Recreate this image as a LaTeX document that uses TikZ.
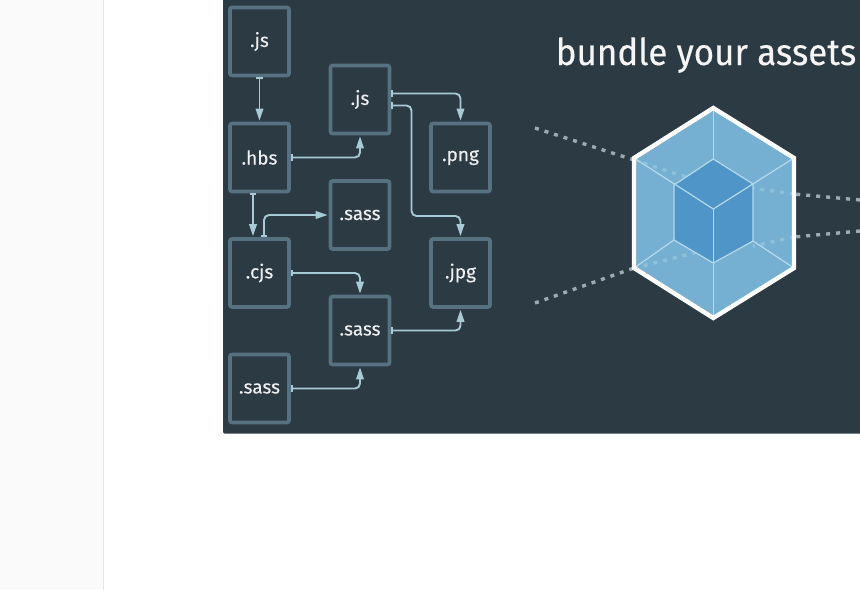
\documentclass[tikz,border=0pt]{standalone}
\usepackage{fontspec}
\setmainfont{Fira Sans}[FakeBold=0.25]
\newfontfamily\titlefont{Fira Sans}[FakeBold=0.3,FakeStretch=0.945]
\newcommand{\boxlabel}[1]{\raisebox{-2pt}{#1}}
\usetikzlibrary{arrows.meta,calc}
\definecolor{panel}{HTML}{2C3A43}
\definecolor{boxedge}{HTML}{56717F}
\definecolor{wire}{HTML}{A8CAD5}
\definecolor{hexfill}{HTML}{75AFD1}
\definecolor{cubefill}{HTML}{4F95C8}
\definecolor{hexline}{HTML}{B5DAEC}
\definecolor{dots}{HTML}{9AABB2}
\definecolor{dotsin}{HTML}{A6CFE2}
\tikzset{
  x=1pt,y=-1pt,
  filebox/.style={draw=boxedge,line width=3.6pt,rounded corners=2pt,minimum width=59pt,minimum height=68pt,
    inner sep=0pt,text=white!92!panel,font=\fontsize{19}{19}\selectfont},
  wireline/.style={draw=wire,line width=1.9pt,rounded corners=5pt,
    arrows={Bar[width=6.5pt,length=2pt]-Triangle[length=12pt,width=7.5pt]}},
  dotline/.style={draw=dots,line width=3.4pt,dash pattern=on 4pt off 6pt},
  dotlinein/.style={draw=dotsin,line width=3.4pt,dash pattern=on 4pt off 6pt},
  inner line/.style={draw=hexline,line width=1.2pt}
}
\begin{document}
\begin{tikzpicture}
\useasboundingbox (0,0) rectangle (860,590);
\fill[white] (0,0) rectangle (860,590);
\fill[black!2] (0,0) rectangle (103,590);
\fill[black!10] (103,0) rectangle (104.2,590);
\fill[panel,rounded corners=1.5pt] (223,-5) rectangle (865,433.5);

\node[filebox] (jsa) at (259.5,41.5) {\boxlabel{.js}};
\node[filebox] (hbs) at (259.5,157.5) {\boxlabel{.hbs}};
\node[filebox] (cjs) at (259.5,273) {\boxlabel{.cjs}};
\node[filebox] (sassc) at (259.5,388.5) {\boxlabel{.sass}};
\node[filebox] (jsb) at (360,99.5) {\boxlabel{.js}};
\node[filebox] (sassa) at (360,215) {\boxlabel{.sass}};
\node[filebox] (sassb) at (360,330.5) {\boxlabel{.sass}};
\node[filebox] (png) at (460.5,157.5) {\boxlabel{.png}};
\node[filebox] (jpg) at (460.5,273) {\boxlabel{.jpg}};

\draw[wireline] (jsa.south) -- ($(hbs.north)+(0,-1)$);
\draw[wireline] (hbs.east) -| ($(jsb.south)+(0,1)$);
\draw[wireline] ($(jsb.east)+(0,-6)$) -| ($(png.north)+(0,-1)$);
\draw[wireline] ($(jsb.east)+(0,6)$) -| (411.5,216) -| ($(jpg.north)+(0,-1)$);
\draw[wireline] ($(hbs.south)+(-6.5,0)$) -- ($(cjs.north)+(-6.5,-1)$);
\draw[wireline] ($(cjs.north)+(4.5,0)$) |- ($(sassa.west)+(-1,0)$);
\draw[wireline] (cjs.east) -| ($(sassb.north)+(0,-1)$);
\draw[wireline] (sassb.east) -| ($(jpg.south)+(0,1)$);
\draw[wireline] (sassc.east) -| ($(sassb.south)+(0,1)$);

\node[text=white!95!panel,font=\titlefont\fontsize{37}{37}\selectfont,anchor=base] (title) at (706,65) {bundle your assets};

\coordinate (ht) at (713.3,108);
\coordinate (hur) at (794,158);
\coordinate (hlr) at (794,268);
\coordinate (hb) at (713.3,318);
\coordinate (hll) at (634,268);
\coordinate (hul) at (634,158);
\coordinate (ct) at (713.3,159);
\coordinate (cur) at (753,184);
\coordinate (clr) at (753,241);
\coordinate (cb) at (713.3,263);
\coordinate (cll) at (674,240);
\coordinate (cul) at (674,185);
\coordinate (cc) at (713.3,209);
\draw[dotline] (535,128) -- (634,160);
\draw[dotline] (535,303) -- (634,268);
\draw[dotline] (860,200) -- (794,194);
\draw[dotline] (860,231) -- (794,237);

\fill[hexfill] (ht) -- (hur) -- (hlr) -- (hb) -- (hll) -- (hul) -- cycle;
\draw[dotlinein,opacity=.55] (634,160) -- (686,177);
\draw[dotlinein,opacity=.55] (634,268) -- (698,252);
\draw[dotlinein,opacity=.55] (794,194) -- (753,188);
\draw[dotlinein,opacity=.55] (794,237) -- (753,246);
\fill[cubefill] (ct) -- (cur) -- (clr) -- (cb) -- (cll) -- (cul) -- cycle;
\draw[inner line] (ct) -- (cur) -- (clr) -- (cb) -- (cll) -- (cul) -- cycle;
\draw[inner line] (ht) -- (ct) (hb) -- (cb) (cc) -- (cb);
\draw[inner line] (hul) -- (cc) -- (hur);
\draw[inner line] (hll) -- (cll) (hlr) -- (clr);
\draw[white,line width=4.4pt,line join=miter] (ht) -- (hur) -- (hlr) -- (hb) -- (hll) -- (hul) -- cycle;
\end{tikzpicture}
\end{document}
